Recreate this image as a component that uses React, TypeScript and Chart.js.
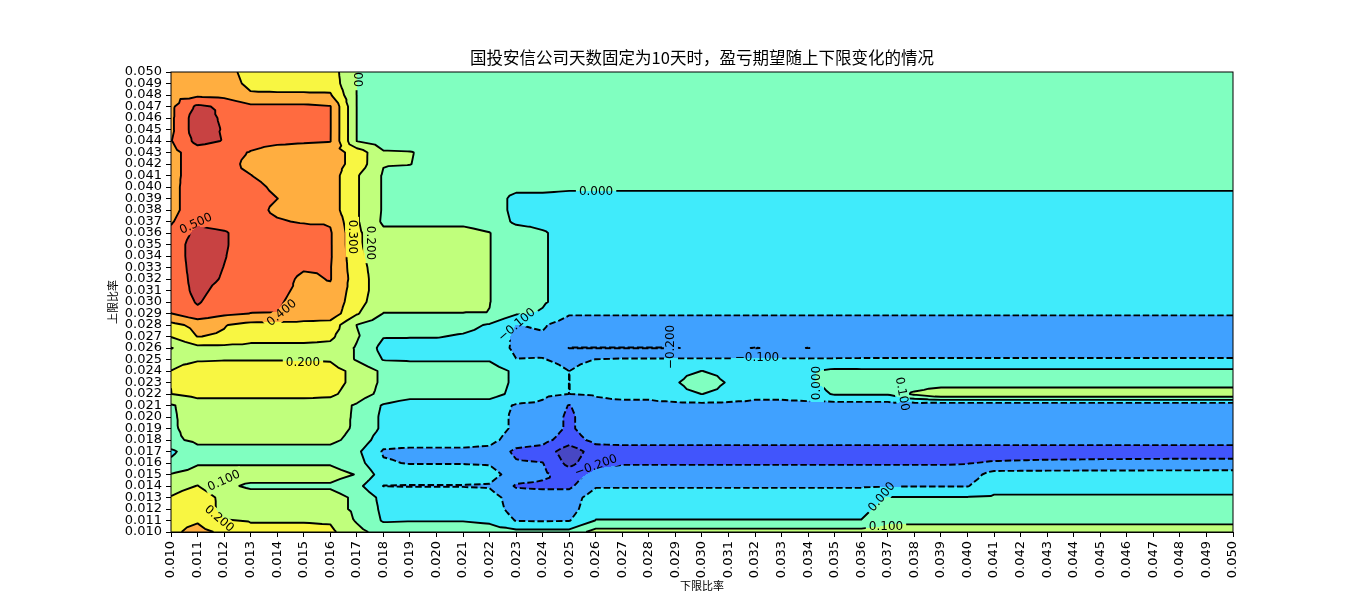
import React, { useEffect, useRef } from "react";
import { Chart, registerables } from "chart.js";

Chart.register(...registerables);

const chartTitle = "国投安信公司天数固定为10天时，盈亏期望随上下限变化的情况";
const xAxisTitle = "下限比率";
const yAxisTitle = "上限比率";

// 下限比率 : x grid / tick values
const lowerRatios = [0.010, 0.011, 0.012, 0.013, 0.014, 0.015, 0.016, 0.017, 0.018, 0.019, 0.020, 0.021, 0.022, 0.023, 0.024, 0.025, 0.026, 0.027, 0.028, 0.029, 0.030, 0.031, 0.032, 0.033, 0.034, 0.035, 0.036, 0.037, 0.038, 0.039, 0.040, 0.041, 0.042, 0.043, 0.044, 0.045, 0.046, 0.047, 0.048, 0.049, 0.050];
// 上限比率 : y grid / tick values, listed from the top row to the bottom row
const upperRatios = [0.050, 0.049, 0.048, 0.047, 0.046, 0.045, 0.044, 0.043, 0.042, 0.041, 0.040, 0.039, 0.038, 0.037, 0.036, 0.035, 0.034, 0.033, 0.032, 0.031, 0.030, 0.029, 0.028, 0.027, 0.026, 0.025, 0.024, 0.023, 0.022, 0.021, 0.020, 0.019, 0.018, 0.017, 0.016, 0.015, 0.014, 0.013, 0.012, 0.011, 0.010];

const contourLevels = [-0.3, -0.2, -0.1, 0.0, 0.1, 0.2, 0.3, 0.4, 0.5];
const bandColors = ["#4747c4", "#4155fc", "#40a1ff", "#40ebfb", "#80ffc0", "#c0ff7c", "#f8f642", "#ffae40", "#ff6b40", "#c84242"];

// expected profit / loss, one row per upper ratio (0.050 first), one column per lower ratio
const expectedProfit = [
  [0.36, 0.36, 0.33, 0.27, 0.26, 0.26, 0.25, 0.098, 0.05, 0.05,  0.05, 0.05, 0.05, 0.05, 0.05, 0.05, 0.05, 0.05, 0.05, 0.05,  0.05, 0.05, 0.05, 0.05, 0.05, 0.05, 0.05, 0.05, 0.05, 0.05,  0.05, 0.05, 0.05, 0.05, 0.05, 0.05, 0.05, 0.05, 0.05, 0.05,  0.05],
  [0.36, 0.37, 0.34, 0.28, 0.27, 0.27, 0.26, 0.098, 0.05, 0.05,  0.05, 0.05, 0.05, 0.05, 0.05, 0.05, 0.05, 0.05, 0.05, 0.05,  0.05, 0.05, 0.05, 0.05, 0.05, 0.05, 0.05, 0.05, 0.05, 0.05,  0.05, 0.05, 0.05, 0.05, 0.05, 0.05, 0.05, 0.05, 0.05, 0.05,  0.05],
  [0.37, 0.38, 0.37, 0.31, 0.31, 0.31, 0.31, 0.098, 0.05, 0.05,  0.05, 0.05, 0.05, 0.05, 0.05, 0.05, 0.05, 0.05, 0.05, 0.05,  0.05, 0.05, 0.05, 0.05, 0.05, 0.05, 0.05, 0.05, 0.05, 0.05,  0.05, 0.05, 0.05, 0.05, 0.05, 0.05, 0.05, 0.05, 0.05, 0.05,  0.05],
  [0.38, 0.52, 0.48, 0.42, 0.42, 0.42, 0.405, 0.098, 0.05, 0.05,  0.05, 0.05, 0.05, 0.05, 0.05, 0.05, 0.05, 0.05, 0.05, 0.05,  0.05, 0.05, 0.05, 0.05, 0.05, 0.05, 0.05, 0.05, 0.05, 0.05,  0.05, 0.05, 0.05, 0.05, 0.05, 0.05, 0.05, 0.05, 0.05, 0.05,  0.05],
  [0.38, 0.56, 0.48, 0.43, 0.43, 0.43, 0.405, 0.098, 0.05, 0.05,  0.05, 0.05, 0.05, 0.05, 0.05, 0.05, 0.05, 0.05, 0.05, 0.05,  0.05, 0.05, 0.05, 0.05, 0.05, 0.05, 0.05, 0.05, 0.05, 0.05,  0.05, 0.05, 0.05, 0.05, 0.05, 0.05, 0.05, 0.05, 0.05, 0.05,  0.05],
  [0.38, 0.56, 0.49, 0.43, 0.43, 0.43, 0.405, 0.098, 0.05, 0.05,  0.05, 0.05, 0.05, 0.05, 0.05, 0.05, 0.05, 0.05, 0.05, 0.05,  0.05, 0.05, 0.05, 0.05, 0.05, 0.05, 0.05, 0.05, 0.05, 0.05,  0.05, 0.05, 0.05, 0.05, 0.05, 0.05, 0.05, 0.05, 0.05, 0.05,  0.05],
  [0.395, 0.53, 0.495, 0.43, 0.42, 0.41, 0.404, 0.098, 0.05, 0.05,  0.05, 0.05, 0.05, 0.05, 0.05, 0.05, 0.05, 0.05, 0.05, 0.05,  0.05, 0.05, 0.05, 0.05, 0.05, 0.05, 0.05, 0.05, 0.05, 0.05,  0.05, 0.05, 0.05, 0.05, 0.05, 0.05, 0.05, 0.05, 0.05, 0.05,  0.05],
  [0.37, 0.45, 0.43, 0.395, 0.36, 0.36, 0.35, 0.26, 0.11, 0.105,  0.07, 0.06, 0.05, 0.05, 0.05, 0.05, 0.05, 0.05, 0.05, 0.05,  0.05, 0.05, 0.05, 0.05, 0.05, 0.05, 0.05, 0.05, 0.05, 0.05,  0.05, 0.05, 0.05, 0.05, 0.05, 0.05, 0.05, 0.05, 0.05, 0.05,  0.05],
  [0.37, 0.45, 0.43, 0.38, 0.36, 0.36, 0.35, 0.26, 0.105, 0.102,  0.07, 0.06, 0.05, 0.05, 0.05, 0.05, 0.05, 0.05, 0.05, 0.05,  0.05, 0.05, 0.05, 0.05, 0.05, 0.05, 0.05, 0.05, 0.05, 0.05,  0.05, 0.05, 0.05, 0.05, 0.05, 0.05, 0.05, 0.05, 0.05, 0.05,  0.05],
  [0.37, 0.45, 0.42, 0.402, 0.36, 0.36, 0.35, 0.21, 0.09, 0.07,  0.06, 0.05, 0.05, 0.05, 0.05, 0.05, 0.05, 0.05, 0.05, 0.05,  0.05, 0.05, 0.05, 0.05, 0.05, 0.05, 0.05, 0.05, 0.05, 0.05,  0.05, 0.05, 0.05, 0.05, 0.05, 0.05, 0.05, 0.05, 0.05, 0.05,  0.05],
  [0.37, 0.46, 0.44, 0.43, 0.38, 0.35, 0.35, 0.21, 0.09, 0.06,  0.06, 0.06, 0.06, 0.03, 0.03, 0.02, 0.02, 0.02, 0.02, 0.02,  0.02, 0.02, 0.02, 0.02, 0.02, 0.02, 0.02, 0.02, 0.02, 0.02,  0.02, 0.02, 0.02, 0.02, 0.02, 0.02, 0.02, 0.02, 0.02, 0.02,  0.02],
  [0.37, 0.46, 0.45, 0.44, 0.401, 0.36, 0.35, 0.21, 0.09, 0.06,  0.06, 0.06, 0.06, -0.03, -0.03, -0.04, -0.04, -0.04, -0.04, -0.04,  -0.04, -0.04, -0.04, -0.04, -0.04, -0.04, -0.04, -0.04, -0.04, -0.04,  -0.04, -0.04, -0.04, -0.04, -0.04, -0.04, -0.04, -0.04, -0.04, -0.04,  -0.04],
  [0.37, 0.46, 0.45, 0.44, 0.38, 0.36, 0.35, 0.21, 0.09, 0.06,  0.06, 0.06, 0.06, -0.03, -0.03, -0.05, -0.05, -0.05, -0.05, -0.05,  -0.05, -0.05, -0.05, -0.05, -0.05, -0.05, -0.05, -0.05, -0.05, -0.05,  -0.05, -0.05, -0.05, -0.05, -0.05, -0.05, -0.05, -0.05, -0.05, -0.05,  -0.05],
  [0.39, 0.48, 0.46, 0.44, 0.41, 0.39, 0.39, 0.21, 0.085, 0.085,  0.085, 0.085, 0.07, -0.02, -0.03, -0.05, -0.05, -0.05, -0.05, -0.05,  -0.05, -0.05, -0.05, -0.05, -0.05, -0.05, -0.05, -0.05, -0.05, -0.05,  -0.05, -0.05, -0.05, -0.05, -0.05, -0.05, -0.05, -0.05, -0.05, -0.05,  -0.05],
  [0.42, 0.53, 0.51, 0.45, 0.45, 0.45, 0.41, 0.22, 0.12, 0.12,  0.12, 0.12, 0.102, 0.05, 0.01, -0.04, -0.05, -0.05, -0.05, -0.05,  -0.05, -0.05, -0.05, -0.05, -0.05, -0.05, -0.05, -0.05, -0.05, -0.05,  -0.05, -0.05, -0.05, -0.05, -0.05, -0.05, -0.05, -0.05, -0.05, -0.05,  -0.05],
  [0.43, 0.56, 0.51, 0.45, 0.45, 0.45, 0.41, 0.22, 0.13, 0.13,  0.13, 0.13, 0.102, 0.05, 0.01, -0.04, -0.05, -0.05, -0.05, -0.05,  -0.05, -0.05, -0.05, -0.05, -0.05, -0.05, -0.05, -0.05, -0.05, -0.05,  -0.05, -0.05, -0.05, -0.05, -0.05, -0.05, -0.05, -0.05, -0.05, -0.05,  -0.05],
  [0.43, 0.56, 0.505, 0.45, 0.45, 0.45, 0.41, 0.23, 0.13, 0.13,  0.13, 0.13, 0.102, 0.05, 0.01, -0.04, -0.05, -0.05, -0.05, -0.05,  -0.05, -0.05, -0.05, -0.05, -0.05, -0.05, -0.05, -0.05, -0.05, -0.05,  -0.05, -0.05, -0.05, -0.05, -0.05, -0.05, -0.05, -0.05, -0.05, -0.05,  -0.05],
  [0.43, 0.55, 0.498, 0.45, 0.45, 0.41, 0.405, 0.24, 0.14, 0.14,  0.14, 0.14, 0.102, 0.05, 0.01, -0.04, -0.05, -0.05, -0.05, -0.05,  -0.05, -0.05, -0.05, -0.05, -0.05, -0.05, -0.05, -0.05, -0.05, -0.05,  -0.05, -0.05, -0.05, -0.05, -0.05, -0.05, -0.05, -0.05, -0.05, -0.05,  -0.05],
  [0.43, 0.54, 0.49, 0.45, 0.44, 0.38, 0.405, 0.25, 0.14, 0.14,  0.14, 0.14, 0.102, 0.05, 0.01, -0.04, -0.05, -0.05, -0.05, -0.05,  -0.05, -0.05, -0.05, -0.05, -0.05, -0.05, -0.05, -0.05, -0.05, -0.05,  -0.05, -0.05, -0.05, -0.05, -0.05, -0.05, -0.05, -0.05, -0.05, -0.05,  -0.05],
  [0.43, 0.53, 0.46, 0.44, 0.42, 0.38, 0.38, 0.25, 0.14, 0.14,  0.14, 0.14, 0.102, 0.05, 0.01, -0.04, -0.05, -0.05, -0.05, -0.05,  -0.05, -0.05, -0.05, -0.05, -0.05, -0.05, -0.05, -0.05, -0.05, -0.05,  -0.05, -0.05, -0.05, -0.05, -0.05, -0.05, -0.05, -0.05, -0.05, -0.05,  -0.05],
  [0.42, 0.51, 0.44, 0.42, 0.41, 0.37, 0.37, 0.24, 0.13, 0.13,  0.13, 0.13, 0.102, 0.05, 0.01, -0.04, -0.05, -0.05, -0.05, -0.05,  -0.05, -0.05, -0.05, -0.05, -0.05, -0.05, -0.05, -0.05, -0.05, -0.05,  -0.05, -0.05, -0.05, -0.05, -0.05, -0.05, -0.05, -0.05, -0.05, -0.05,  -0.05],
  [0.398, 0.47, 0.42, 0.399, 0.398, 0.36, 0.36, 0.21, 0.098, 0.098,  0.098, 0.098, 0.098, 0.01, -0.01, -0.09, -0.09, -0.09, -0.09, -0.09,  -0.09, -0.09, -0.09, -0.09, -0.09, -0.09, -0.09, -0.09, -0.09, -0.09,  -0.09, -0.09, -0.09, -0.09, -0.09, -0.09, -0.09, -0.09, -0.09, -0.09,  -0.09],
  [0.27, 0.33, 0.305, 0.27, 0.27, 0.27, 0.26, 0.098, 0.04, 0.04,  0.04, 0.03, -0.01, -0.102, -0.09, -0.15, -0.15, -0.15, -0.15, -0.15,  -0.15, -0.15, -0.15, -0.15, -0.15, -0.15, -0.15, -0.15, -0.15, -0.15,  -0.15, -0.15, -0.15, -0.15, -0.15, -0.15, -0.15, -0.15, -0.15, -0.15,  -0.15],
  [0.205, 0.302, 0.29, 0.24, 0.24, 0.24, 0.22, 0.11, 0.005, 0.005,  0.005, -0.01, -0.03, -0.12, -0.11, -0.15, -0.15, -0.15, -0.15, -0.15,  -0.15, -0.15, -0.15, -0.15, -0.15, -0.15, -0.15, -0.15, -0.15, -0.15,  -0.15, -0.15, -0.15, -0.15, -0.15, -0.15, -0.15, -0.15, -0.15, -0.15,  -0.15],
  [0.095, 0.17, 0.17, 0.17, 0.17, 0.17, 0.17, 0.09, -0.03, -0.04,  -0.04, -0.04, -0.04, -0.12, -0.13, -0.202, -0.202, -0.202, -0.202, -0.202,  -0.19, -0.19, -0.202, -0.19, -0.201, -0.18, -0.17, -0.17, -0.17, -0.17,  -0.17, -0.17, -0.17, -0.17, -0.17, -0.17, -0.17, -0.17, -0.17, -0.17,  -0.17],
  [0.17, 0.19, 0.195, 0.195, 0.195, 0.195, 0.19, 0.09, -0.005, -0.01,  -0.01, -0.01, -0.01, -0.098, -0.095, -0.13, -0.098, -0.09, -0.09, -0.09,  -0.09, -0.09, -0.09, -0.09, -0.09, -0.09, -0.09, -0.09, -0.09, -0.09,  -0.09, -0.09, -0.09, -0.09, -0.09, -0.09, -0.09, -0.09, -0.09, -0.09,  -0.09],
  [0.201, 0.25, 0.25, 0.25, 0.25, 0.25, 0.24, 0.17, 0.08, 0.05,  0.05, 0.05, 0.05, -0.02, -0.05, -0.1005, -0.05, -0.04, -0.04, -0.03,  0.001, -0.03, -0.04, -0.04, -0.01, 0.02, 0.018, 0.018, 0.018, 0.018,  0.018, 0.018, 0.018, 0.018, 0.018, 0.018, 0.018, 0.018, 0.018, 0.018,  0.018],
  [0.201, 0.26, 0.26, 0.26, 0.26, 0.26, 0.24, 0.17, 0.08, 0.05,  0.05, 0.05, 0.05, -0.02, -0.05, -0.1005, -0.05, -0.04, -0.04, -0.01,  0.06, -0.01, -0.04, -0.04, -0.01, 0.03, 0.03, 0.03, 0.03, 0.03,  0.03, 0.03, 0.03, 0.03, 0.03, 0.03, 0.03, 0.03, 0.03, 0.03,  0.03],
  [0.199, 0.23, 0.23, 0.23, 0.23, 0.23, 0.22, 0.15, 0.07, 0.04,  0.04, 0.04, 0.04, -0.03, -0.08, -0.1005, -0.09, -0.07, -0.07, -0.03,  0.001, -0.03, -0.07, -0.07, -0.05, 0.01, 0.01, 0.01, 0.12, 0.19,  0.19, 0.19, 0.19, 0.19, 0.19, 0.19, 0.19, 0.19, 0.19, 0.19,  0.19],
  [0.09, 0.15, 0.15, 0.15, 0.15, 0.15, 0.15, 0.088, -0.01, -0.05,  -0.05, -0.05, -0.05, -0.11, -0.12, -0.205, -0.13, -0.13, -0.13, -0.13,  -0.13, -0.13, -0.13, -0.13, -0.13, -0.15, -0.15, -0.15, -0.17, -0.185,  -0.185, -0.185, -0.185, -0.185, -0.185, -0.185, -0.185, -0.185, -0.185, -0.185,  -0.185],
  [0.085, 0.15, 0.15, 0.15, 0.15, 0.15, 0.15, 0.085, -0.02, -0.05,  -0.05, -0.05, -0.05, -0.12, -0.13, -0.22, -0.13, -0.15, -0.15, -0.15,  -0.15, -0.15, -0.15, -0.15, -0.15, -0.15, -0.15, -0.15, -0.15, -0.15,  -0.15, -0.15, -0.15, -0.15, -0.15, -0.15, -0.15, -0.15, -0.15, -0.15,  -0.15],
  [0.085, 0.14, 0.14, 0.14, 0.14, 0.14, 0.14, 0.085, -0.02, -0.05,  -0.05, -0.05, -0.05, -0.12, -0.13, -0.22, -0.13, -0.15, -0.15, -0.15,  -0.15, -0.15, -0.15, -0.15, -0.15, -0.15, -0.15, -0.15, -0.15, -0.15,  -0.15, -0.15, -0.15, -0.15, -0.15, -0.15, -0.15, -0.15, -0.15, -0.15,  -0.15],
  [0.08, 0.12, 0.12, 0.12, 0.12, 0.12, 0.12, 0.07, -0.06, -0.06,  -0.06, -0.06, -0.07, -0.15, -0.17, -0.25, -0.17, -0.16, -0.16, -0.16,  -0.16, -0.16, -0.16, -0.16, -0.16, -0.16, -0.16, -0.16, -0.16, -0.16,  -0.16, -0.16, -0.16, -0.16, -0.16, -0.16, -0.16, -0.16, -0.16, -0.16,  -0.16],
  [-0.02, 0.07, 0.07, 0.07, 0.07, 0.07, 0.07, 0.02, -0.11, -0.12,  -0.12, -0.12, -0.13, -0.22, -0.24, -0.36, -0.25, -0.25, -0.25, -0.25,  -0.25, -0.25, -0.25, -0.25, -0.25, -0.25, -0.25, -0.25, -0.25, -0.25,  -0.25, -0.25, -0.25, -0.25, -0.25, -0.25, -0.25, -0.25, -0.25, -0.25,  -0.25],
  [0.02, 0.09, 0.09, 0.09, 0.09, 0.09, 0.09, 0.04, -0.09, -0.105,  -0.105, -0.105, -0.11, -0.19, -0.198, -0.33, -0.23, -0.21, -0.21, -0.21,  -0.21, -0.21, -0.21, -0.21, -0.21, -0.21, -0.21, -0.21, -0.21, -0.21,  -0.205, -0.19, -0.185, -0.18, -0.178, -0.175, -0.174, -0.172, -0.171, -0.17,  -0.17],
  [0.105, 0.14, 0.14, 0.14, 0.14, 0.14, 0.14, 0.095, -0.05, -0.05,  -0.05, -0.05, -0.06, -0.15, -0.18, -0.25, -0.17, -0.15, -0.15, -0.15,  -0.15, -0.15, -0.15, -0.15, -0.15, -0.15, -0.15, -0.15, -0.15, -0.15,  -0.15, -0.06, -0.06, -0.06, -0.06, -0.06, -0.06, -0.06, -0.06, -0.06,  -0.06],
  [0.16, 0.203, 0.12, 0.085, 0.085, 0.085, 0.085, 0.03, -0.102, -0.105,  -0.105, -0.105, -0.11, -0.21, -0.22, -0.22, -0.11, -0.11, -0.11, -0.11,  -0.11, -0.11, -0.11, -0.11, -0.11, -0.11, -0.11, -0.105, -0.105, -0.105,  -0.105, -0.03, -0.03, -0.03, -0.03, -0.03, -0.03, -0.03, -0.03, -0.03,  -0.03],
  [0.205, 0.26, 0.17, 0.14, 0.14, 0.14, 0.14, 0.08, -0.03, -0.04,  -0.04, -0.04, -0.06, -0.15, -0.15, -0.15, -0.05, -0.05, -0.05, -0.05,  -0.05, -0.05, -0.05, -0.05, -0.05, -0.05, -0.05, 0.005, 0.005, 0.005,  0.005, 0.01, 0.01, 0.01, 0.01, 0.01, 0.01, 0.01, 0.01, 0.01,  0.01],
  [0.24, 0.27, 0.17, 0.14, 0.14, 0.14, 0.14, 0.08, -0.02, -0.03,  -0.03, -0.03, -0.05, -0.14, -0.14, -0.14, -0.03, -0.03, -0.03, -0.03,  -0.03, -0.03, -0.03, -0.03, -0.03, -0.03, -0.03, 0.04, 0.04, 0.04,  0.04, 0.05, 0.05, 0.05, 0.05, 0.05, 0.05, 0.05, 0.05, 0.05,  0.05],
  [0.27, 0.29, 0.205, 0.195, 0.195, 0.195, 0.19, 0.09, -0.01, -0.005,  -0.005, -0.005, -0.02, -0.105, -0.11, -0.105, 0.003, 0.003, 0.003, 0.003,  0.003, 0.003, 0.003, 0.003, 0.003, 0.003, 0.003, 0.08, 0.08, 0.08,  0.08, 0.08, 0.08, 0.08, 0.08, 0.08, 0.08, 0.08, 0.08, 0.08,  0.08],
  [0.28, 0.33, 0.28, 0.22, 0.22, 0.22, 0.22, 0.13, 0.06, 0.06,  0.06, 0.06, 0.05, 0.03, 0.03, 0.03, 0.14, 0.14, 0.14, 0.14,  0.14, 0.14, 0.14, 0.14, 0.14, 0.14, 0.14, 0.14, 0.14, 0.14,  0.14, 0.14, 0.14, 0.14, 0.14, 0.14, 0.14, 0.14, 0.14, 0.14,  0.14],
];

// inline contour labels: text, position (lower ratio, upper ratio), rotation in degrees
const labelTexts = ["0.100", "0.300", "0.200", "0.500", "0.400", "0.200", "0.100", "0.200", "0.000", "\u22120.100", "\u22120.200", "\u22120.100", "0.000", "0.100", "0.000", "0.100", "\u22120.200"];
const labelLower = [0.01702, 0.01682, 0.0175, 0.01094, 0.01418, 0.01497, 0.012, 0.01181, 0.02601, 0.02303, 0.02883, 0.03207, 0.03433, 0.03753, 0.03678, 0.03693, 0.02601];
const labelUpper = [0.05017, 0.03565, 0.03513, 0.03678, 0.02904, 0.0247, 0.01444, 0.01113, 0.03957, 0.028, 0.02609, 0.02513, 0.02296, 0.022, 0.01304, 0.01044, 0.01574];
const labelAngles = [90, 90, 90, -25, -40, 0, -25, 40, 0, -40, -90, 0, -90, 80, -50, 0, -20];

const tickFont = "'DejaVu Sans', sans-serif";
const cjkFont = "'Noto Sans CJK SC', 'Noto Sans', sans-serif";

function hexToRgb(h: string) {
  return [parseInt(h.slice(1, 3), 16), parseInt(h.slice(3, 5), 16), parseInt(h.slice(5, 7), 16)];
}
const clamp01 = (t: number) => (t < 0 ? 0 : t > 1 ? 1 : t);

const contourPlugin = {
  id: "contourPlot",
  beforeDatasetsDraw(chart: any) {
    const ctx = chart.ctx;
    const ca = chart.chartArea;
    const xs = chart.scales.x;
    const ys = chart.scales.y;
    const nx = lowerRatios.length;
    const ny = upperRatios.length;
    const gx = lowerRatios.map((v) => xs.getPixelForValue(v));
    const gy = upperRatios.map((v) => ys.getPixelForValue(v));
    const Z = expectedProfit;
    const rgb = bandColors.map(hexToRgb);
    const nL = contourLevels.length;

    // ---------- filled bands ----------
    const left = Math.round(ca.left);
    const top = Math.round(ca.top);
    const W = Math.round(ca.right) - left;
    const H = Math.round(ca.bottom) - top;
    const off = document.createElement("canvas");
    off.width = W;
    off.height = H;
    const octx = off.getContext("2d") as CanvasRenderingContext2D;
    const img = octx.createImageData(W, H);
    const data = img.data;
    const colI = new Int32Array(W);
    const colU = new Float64Array(W);
    for (let px = 0; px < W; px++) {
      const X = left + px + 0.5;
      let i = 0;
      while (i < nx - 2 && X > gx[i + 1]) i++;
      colI[px] = i;
      colU[px] = clamp01((X - gx[i]) / (gx[i + 1] - gx[i]));
    }
    for (let py = 0; py < H; py++) {
      const Y = top + py + 0.5;
      let r = 0;
      while (r < ny - 2 && Y > gy[r + 1]) r++;
      const v = clamp01((Y - gy[r]) / (gy[r + 1] - gy[r]));
      const rowT = Z[r];
      const rowB = Z[r + 1];
      for (let px = 0; px < W; px++) {
        const i = colI[px];
        const u = colU[px];
        const a = rowT[i], b = rowT[i + 1], c = rowB[i + 1], d = rowB[i];
        const m = (a + b + c + d) / 4;
        let f;
        if (v <= u && v <= 1 - u) f = a + (b - a) * (u - v) + 2 * v * (m - a);
        else if (v >= u && v >= 1 - u) {
          const w = 1 - v;
          f = d + (c - d) * (u - w) + 2 * w * (m - d);
        } else if (u < v && u < 1 - v) f = a + (d - a) * (v - u) + 2 * u * (m - a);
        else {
          const w = 1 - u;
          f = b + (c - b) * (v - w) + 2 * w * (m - b);
        }
        let k = 0;
        while (k < nL && f >= contourLevels[k]) k++;
        const col = rgb[k];
        const o = (py * W + px) * 4;
        data[o] = col[0];
        data[o + 1] = col[1];
        data[o + 2] = col[2];
        data[o + 3] = 255;
      }
    }
    octx.putImageData(img, 0, 0);
    ctx.drawImage(off, left, top);

    // ---------- contour lines ----------
    const lineCanvas = document.createElement("canvas");
    lineCanvas.width = chart.width;
    lineCanvas.height = chart.height;
    const lctx = lineCanvas.getContext("2d") as CanvasRenderingContext2D;
    lctx.lineWidth = 1.9;
    lctx.strokeStyle = "#000";
    lctx.lineJoin = "round";
    lctx.lineCap = "butt";
    const centerBase = nx * ny;
    for (const L of contourLevels) {
      const nodes = new Map<string, any>();
      const segs: string[][] = [];
      const addNode = (key: string, x: number, y: number, s: number) => {
        let n = nodes.get(key);
        if (!n) {
          n = { x, y, segs: [] };
          nodes.set(key, n);
        }
        n.segs.push(s);
      };
      for (let r = 0; r < ny - 1; r++) {
        for (let i = 0; i < nx - 1; i++) {
          const A = { id: r * nx + i, x: gx[i], y: gy[r], f: Z[r][i] };
          const B = { id: r * nx + i + 1, x: gx[i + 1], y: gy[r], f: Z[r][i + 1] };
          const C = { id: (r + 1) * nx + i + 1, x: gx[i + 1], y: gy[r + 1], f: Z[r + 1][i + 1] };
          const D = { id: (r + 1) * nx + i, x: gx[i], y: gy[r + 1], f: Z[r + 1][i] };
          const M = { id: centerBase + r * (nx - 1) + i, x: (gx[i] + gx[i + 1]) / 2, y: (gy[r] + gy[r + 1]) / 2, f: (A.f + B.f + C.f + D.f) / 4 };
          const tris = [[A, B, M], [B, C, M], [C, D, M], [D, A, M]];
          for (const tri of tris) {
            const pts: any[] = [];
            for (let e = 0; e < 3; e++) {
              let p = tri[e];
              let q = tri[(e + 1) % 3];
              if ((p.f >= L) === (q.f >= L)) continue;
              if (p.id > q.id) {
                const tmp = p;
                p = q;
                q = tmp;
              }
              const t = (L - p.f) / (q.f - p.f);
              pts.push({ key: p.id + "_" + q.id, x: p.x + t * (q.x - p.x), y: p.y + t * (q.y - p.y) });
            }
            if (pts.length === 2) {
              const s = segs.length;
              segs.push([pts[0].key, pts[1].key]);
              addNode(pts[0].key, pts[0].x, pts[0].y, s);
              addNode(pts[1].key, pts[1].x, pts[1].y, s);
            }
          }
        }
      }
      const used = new Uint8Array(segs.length);
      const polys: string[][] = [];
      const walk = (start: string) => {
        const line = [start];
        let cur = start;
        for (;;) {
          const n = nodes.get(cur);
          let s = -1;
          for (const k of n.segs) if (!used[k]) { s = k; break; }
          if (s < 0) break;
          used[s] = 1;
          cur = segs[s][0] === cur ? segs[s][1] : segs[s][0];
          line.push(cur);
        }
        return line;
      };
      nodes.forEach((n, key) => {
        if (n.segs.length === 1 && !used[n.segs[0]]) polys.push(walk(key));
      });
      for (let s = 0; s < segs.length; s++) if (!used[s]) polys.push(walk(segs[s][0]));
      lctx.setLineDash(L < 0 ? [6.5, 2.8] : []);
      lctx.beginPath();
      for (const poly of polys) {
        poly.forEach((k, idx) => {
          const n = nodes.get(k);
          if (idx === 0) lctx.moveTo(n.x, n.y);
          else lctx.lineTo(n.x, n.y);
        });
      }
      lctx.stroke();
    }

    // gaps for inline labels
    const labelFont = "12px " + tickFont;
    lctx.setLineDash([]);
    lctx.font = labelFont;
    const labelPos = labelTexts.map((_, k) => ({ x: xs.getPixelForValue(labelLower[k]), y: ys.getPixelForValue(labelUpper[k]) }));
    labelTexts.forEach((txt, k) => {
      const w = lctx.measureText(txt).width;
      lctx.save();
      lctx.globalCompositeOperation = "destination-out";
      lctx.translate(labelPos[k].x, labelPos[k].y);
      lctx.rotate((labelAngles[k] * Math.PI) / 180);
      lctx.fillStyle = "#000";
      lctx.fillRect(-w / 2 - 3, -7, w + 6, 14);
      lctx.restore();
    });
    ctx.save();
    ctx.beginPath();
    ctx.rect(ca.left, ca.top, ca.right - ca.left, ca.bottom - ca.top);
    ctx.clip();
    ctx.drawImage(lineCanvas, 0, 0);
    ctx.fillStyle = "#000";
    ctx.font = labelFont;
    ctx.textAlign = "center";
    ctx.textBaseline = "middle";
    labelTexts.forEach((txt, k) => {
      ctx.save();
      ctx.translate(labelPos[k].x, labelPos[k].y);
      ctx.rotate((labelAngles[k] * Math.PI) / 180);
      ctx.fillText(txt, 0, 0);
      ctx.restore();
    });
    ctx.restore();
  },
  afterDraw(chart: any) {
    const ctx = chart.ctx;
    const ca = chart.chartArea;
    ctx.save();
    ctx.strokeStyle = "#000";
    ctx.lineWidth = 1;
    ctx.strokeRect(ca.left, ca.top, ca.right - ca.left, ca.bottom - ca.top);
    ctx.fillStyle = "#000";
    ctx.textAlign = "center";
    ctx.textBaseline = "middle";
    ctx.font = "16.5px " + cjkFont;
    ctx.fillText(chartTitle, (ca.left + ca.right) / 2, 58);
    ctx.font = "11px " + cjkFont;
    ctx.fillText(xAxisTitle, (ca.left + ca.right) / 2, 586);
    ctx.translate(113, (ca.top + ca.bottom) / 2);
    ctx.rotate(-Math.PI / 2);
    ctx.fillText(yAxisTitle, 0, 0);
    ctx.restore();
  },
};

export default function App() {
  const ref = useRef<HTMLCanvasElement>(null);
  useEffect(() => {
    const canvas = ref.current;
    if (!canvas) return;
    const chart = new Chart(canvas, {
      type: "scatter",
      data: { datasets: [{ data: [], pointRadius: 0 }] },
      options: {
        animation: false,
        responsive: false,
        devicePixelRatio: 1,
        layout: { padding: { left: 0, right: 137, top: 72, bottom: 0 } },
        plugins: { legend: { display: false }, tooltip: { enabled: false }, title: { display: false } },
        scales: {
          x: {
            type: "linear",
            min: 0.01,
            max: 0.05,
            afterBuildTicks: (scale: any) => {
              scale.ticks = lowerRatios.map((v) => ({ value: v }));
            },
            afterFit: (scale: any) => {
              scale.height = 65;
            },
            grid: { display: true, drawOnChartArea: false, drawTicks: true, tickLength: 5, color: "#000", lineWidth: 1 },
            border: { display: true, color: "#000", width: 1 },
            ticks: {
              autoSkip: false,
              minRotation: 90,
              maxRotation: 90,
              padding: 4,
              color: "#000",
              font: { family: tickFont, size: 13 },
              callback: (v: any) => Number(v).toFixed(3),
            },
          },
          y: {
            type: "linear",
            min: 0.01,
            max: 0.05,
            afterBuildTicks: (scale: any) => {
              scale.ticks = upperRatios.slice().sort((p, q) => p - q).map((v) => ({ value: v }));
            },
            afterFit: (scale: any) => {
              scale.width = 171;
            },
            grid: { display: true, drawOnChartArea: false, drawTicks: true, tickLength: 5, color: "#000", lineWidth: 1 },
            border: { display: true, color: "#000", width: 1 },
            ticks: {
              autoSkip: false,
              padding: 4,
              color: "#000",
              font: { family: tickFont, size: 13 },
              callback: (v: any) => Number(v).toFixed(3),
            },
          },
        },
      } as any,
      plugins: [contourPlugin],
    });
    return () => chart.destroy();
  }, []);
  return (
    <div style={{ position: "fixed", left: 0, top: 0, width: 1370, height: 597, background: "#fff" }}>
      <canvas ref={ref} width={1370} height={597} style={{ display: "block", width: 1370, height: 597 }} />
    </div>
  );
}
